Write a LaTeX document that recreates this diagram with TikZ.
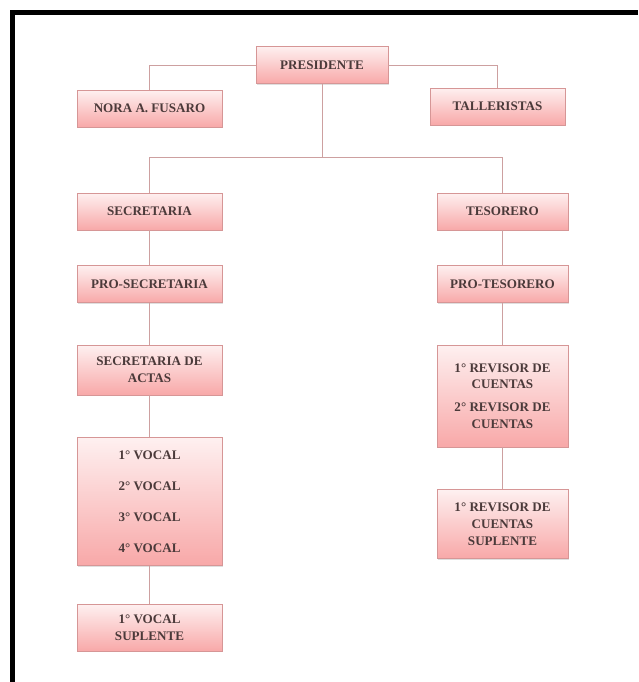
\documentclass[tikz,border=0pt]{standalone}
\usepackage{fontspec}
\setmainfont{Liberation Serif}
\usetikzlibrary{positioning, shadows}
\definecolor{cargoline}{RGB}{214,150,150}
\definecolor{cargotop}{RGB}{254,240,240}
\definecolor{cargobot}{RGB}{248,168,168}
\definecolor{cargotext}{RGB}{75,58,58}
\definecolor{linkgray}{RGB}{205,160,160}
\tikzset{
    cargo/.style={
        draw = cargoline, top color = cargotop, bottom color = cargobot,
        minimum width = 3.625cm,
        minimum height = 0.925cm,
        align = center, text = cargotext,
        font = \fontsize{9.3}{12}\selectfont\bfseries,
        drop shadow = {shadow xshift=0.6pt, shadow yshift=-0.8pt, opacity=0.25}
    },
    narrow/.style = {minimum width = 3.275cm},
    link/.style = {draw = linkgray, line width = 0.7pt}
}

\begin{document}
\begin{tikzpicture}[node distance = 0.875cm]

    \useasboundingbox (0,0) rectangle (15.95,-17.05);
    \draw[line width = 3.5pt] (0.3125,-17.05) -- (0.3125,-0.3125) -- (15.95,-0.3125);

    \node[cargo, minimum width = 3.3cm] (pres) at (8.05,-1.625) {PRESIDENTE};
    \node[cargo] (nora) at (3.7375,-2.7125) {NORA A. FUSARO};
    \node[cargo, minimum width = 3.375cm] (talle) at (12.4375,-2.6625) {TALLERISTAS};
    \coordinate[below = 1.85 of pres] (split);

    % columna secretaria
    \node[cargo] (secr) at (3.7375,-5.2875) {SECRETARIA};
    \node[cargo, below = of secr] (prosec) {PRO-SECRETARIA};
    \node[cargo, below = 1.05 of prosec, minimum height = 1.25cm] (actas) {SECRETARIA DE\\ACTAS};
    \node[cargo, below = 1.05 of actas, minimum height = 3.2cm] (vocales) {1° VOCAL\\[10pt]2° VOCAL\\[10pt]3° VOCAL\\[10pt]4° VOCAL};
    \node[cargo, below = 0.95 of vocales, minimum height = 1.175cm] (vocsup) {1° VOCAL\\SUPLENTE};

    % columna tesorero
    \node[cargo, narrow] (teso) at (12.5625,-5.2875) {TESORERO};
    \node[cargo, narrow, below = of teso] (proteso) {PRO-TESORERO};
    \node[cargo, narrow, below = 1.05 of proteso, minimum height = 2.55cm] (revisor) {1° REVISOR DE\\CUENTAS\\[4.3pt]2° REVISOR DE\\CUENTAS};
    \node[cargo, narrow, below = 1.05 of revisor, minimum height = 1.725cm] (revsup) {1° REVISOR DE\\CUENTAS\\SUPLENTE};

    \draw[link] (pres.west) -| (nora.north);
    \draw[link] (pres.east) -| (talle.north);
    \draw[link] (pres.south) -- (split);
    \draw[link] (secr.north) |- (split) -| (teso.north);

    \draw[link] (secr) -- (prosec);
    \draw[link] (prosec) -- (actas);
    \draw[link] (actas) -- (vocales);
    \draw[link] (vocales) -- (vocsup);

    \draw[link] (teso) -- (proteso);
    \draw[link] (proteso) -- (revisor);
    \draw[link] (revisor) -- (revsup);

\end{tikzpicture}
\end{document}
